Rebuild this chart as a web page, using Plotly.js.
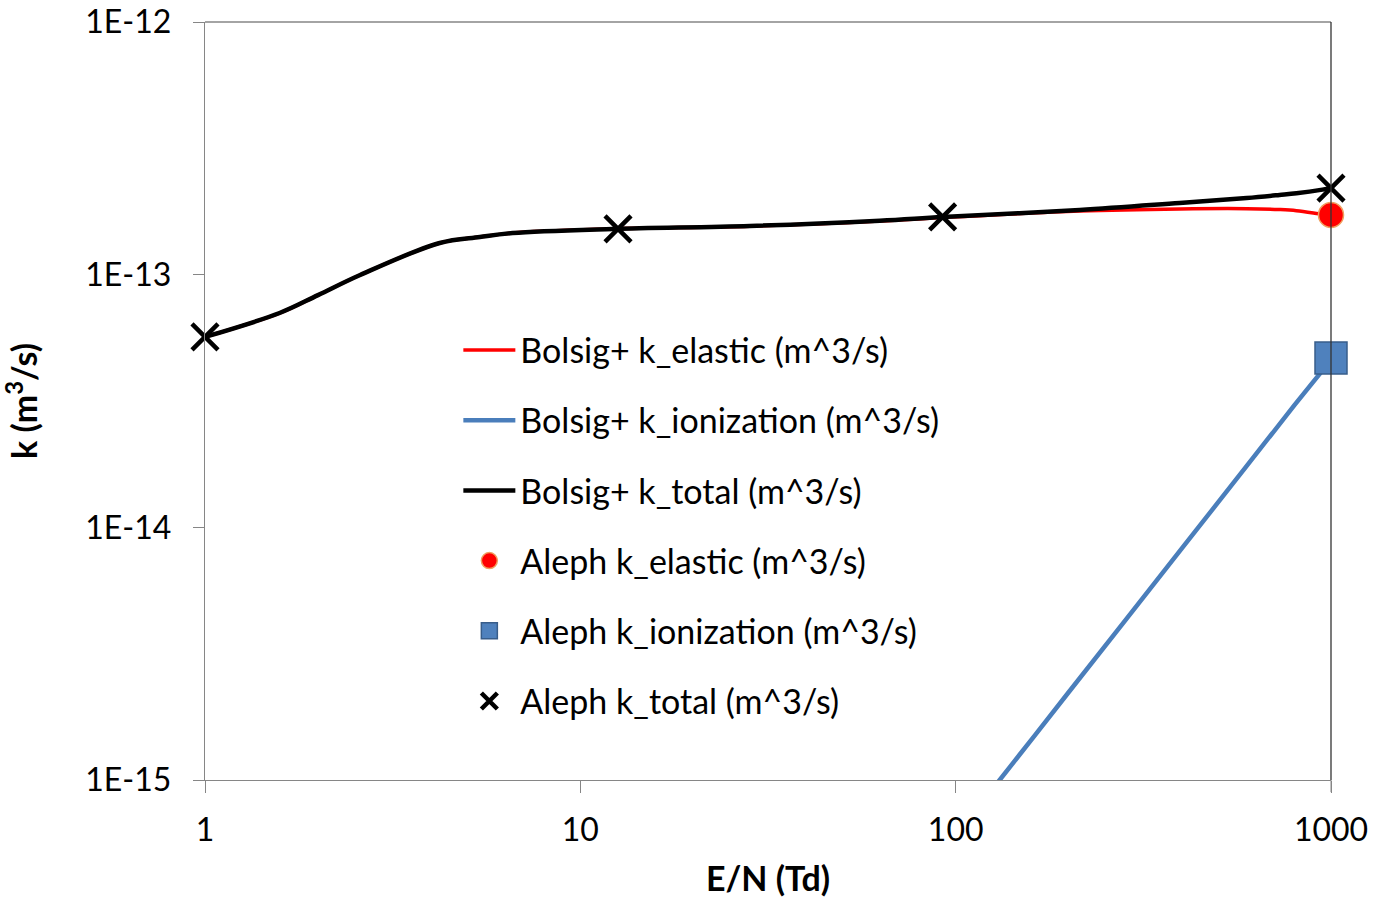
<!DOCTYPE html>
<html>
<head>
<meta charset="utf-8">
<script src="https://cdn.plot.ly/plotly-3.0.1.min.js"></script>
<style>html,body{margin:0;padding:0;background:#fff;}#chart{width:1377px;height:901px;}</style>
</head>
<body>
<div id="chart"></div>
<script>
// Bolsig+ curves (E/N in Td)
const bolsigEN = [1, 1.58, 2.0, 2.59, 4.22, 5.4, 6.6, 12.2, 28.3, 62.8, 92.3, 214, 395, 596, 729, 809, 949, 1000];
const bolsigElastic = [5.67e-14, 7.05e-14, 8.3e-14, 9.97e-14, 1.335e-13, 1.41e-13, 1.462e-13, 1.517e-13, 1.555e-13, 1.63e-13, 1.685e-13, 1.786e-13, 1.82e-13, 1.824e-13, 1.81e-13, 1.792e-13, 1.735e-13, 1.72e-13];
const bolsigTotal = [5.67e-14, 7.05e-14, 8.3e-14, 9.97e-14, 1.335e-13, 1.41e-13, 1.462e-13, 1.517e-13, 1.558e-13, 1.636e-13, 1.692e-13, 1.803e-13, 1.922e-13, 2.01e-13, 2.067e-13, 2.1e-13, 2.17e-13, 2.2e-13];
const bolsigIonEN = [100, 131, 200, 400, 600, 800, 1000];
const bolsigIon = [6.08e-16, 1.0e-15, 2.225e-15, 8.23e-15, 1.77e-14, 3.05e-14, 4.6e-14];

// Aleph points
const alephTotalEN = [1, 12.6, 92.3, 1000];
const alephTotal = [5.67e-14, 1.517e-13, 1.692e-13, 2.2e-13];
const alephElasticEN = [1000];
const alephElastic = [1.723e-13];
const alephIonEN = [1000];
const alephIon = [4.68e-14];

const yTickVals = [1e-15, 1e-14, 1e-13, 1e-12];
const yTickText = ['1E-15', '1E-14', '1E-13', '1E-12'];
const xTickVals = [1, 10, 100, 1000];
const xTickText = ['1', '10', '100', '1000'];

const FONT = 'Lato, "Open Sans", sans-serif';

const traces = [
  {x: bolsigEN, y: bolsigElastic, name: 'Bolsig+ k_elastic (m^3/s)', mode: 'lines',
   line: {color: '#ff0000', width: 3.5, shape: 'spline', smoothing: 1.0}, legendgroup: 'a'},
  {x: bolsigIonEN, y: bolsigIon, name: 'Bolsig+ k_ionization (m^3/s)', mode: 'lines',
   line: {color: '#4a7ebb', width: 4.5, shape: 'spline', smoothing: 0.6}, legendgroup: 'b'},
  {x: bolsigEN, y: bolsigTotal, name: 'Bolsig+ k_total (m^3/s)', mode: 'lines',
   line: {color: '#000000', width: 4.5, shape: 'spline', smoothing: 1.0}, legendgroup: 'c'},
  {x: alephElasticEN, y: alephElastic, name: 'Aleph k_elastic (m^3/s)', mode: 'markers',
   marker: {symbol: 'circle', size: 25, color: '#ff0000', line: {color: '#f0a060', width: 1.5}}, legendgroup: 'd', cliponaxis: false},
  {x: alephIonEN, y: alephIon, name: 'Aleph k_ionization (m^3/s)', mode: 'markers',
   marker: {symbol: 'square', size: 32, color: '#4f81bd', line: {color: '#385d8a', width: 1.5}}, legendgroup: 'e', cliponaxis: false},
  {x: alephTotalEN, y: alephTotal, name: 'Aleph k_total (m^3/s)', mode: 'markers',
   marker: {symbol: 'x-thin', size: 26, color: '#000000', line: {color: '#000000', width: 4.5}}, legendgroup: 'f', cliponaxis: false}
];

const layout = {
  width: 1377, height: 901,
  margin: {l: 205, r: 46, t: 22, b: 121},
  paper_bgcolor: '#ffffff', plot_bgcolor: '#ffffff',
  font: {family: FONT, size: 32, color: '#000000'},
  showlegend: true,
  legend: {
    x: 0.225, y: 0.605, xanchor: 'left', yanchor: 'top',
    bgcolor: 'rgba(0,0,0,0)', borderwidth: 0,
    font: {family: FONT, size: 34, color: '#000000'},
    traceorder: 'grouped', tracegroupgap: 23, itemwidth: 52
  },
  xaxis: {
    type: 'log', range: [0, 3],
    tickvals: xTickVals, ticktext: xTickText,
    ticks: 'outside', ticklen: 12, tickcolor: '#868686', tickwidth: 1,
    showline: true, linecolor: '#868686', linewidth: 1.3,
    showgrid: false, zeroline: false,
    tickfont: {family: FONT, size: 32, color: '#000'},
    ticklabelstandoff: 9,
    title: {text: '<b>E/N (Td)</b>', font: {family: FONT, size: 34, color: '#000'}, standoff: 20}
  },
  yaxis: {
    type: 'log', range: [-15, -12],
    tickvals: yTickVals, ticktext: yTickText,
    ticks: 'outside', ticklen: 11, tickcolor: '#868686', tickwidth: 1,
    showline: true, linecolor: '#868686', linewidth: 1.3,
    showgrid: false, zeroline: false,
    tickfont: {family: FONT, size: 32, color: '#000'},
    ticklabelstandoff: 15,
    title: {text: '<b>k (m<sup>3</sup>/s)</b>', font: {family: FONT, size: 34, color: '#000'}, standoff: 43}
  },
  shapes: [
    {type: 'line', xref: 'paper', yref: 'paper', x0: 0, x1: 1, y0: 1, y1: 1, line: {color: '#868686', width: 1.3}},
    {type: 'line', xref: 'paper', yref: 'paper', x0: 1, x1: 1, y0: 0, y1: 1, line: {color: '#333333', width: 1.3}},
    {type: 'line', xref: 'paper', yref: 'paper', x0: 1, x1: 1, y0: 0, y1: -0.016, line: {color: '#868686', width: 1}}
  ]
};

Plotly.newPlot('chart', traces, layout, {displayModeBar: false, staticPlot: true});
</script>
</body>
</html>
